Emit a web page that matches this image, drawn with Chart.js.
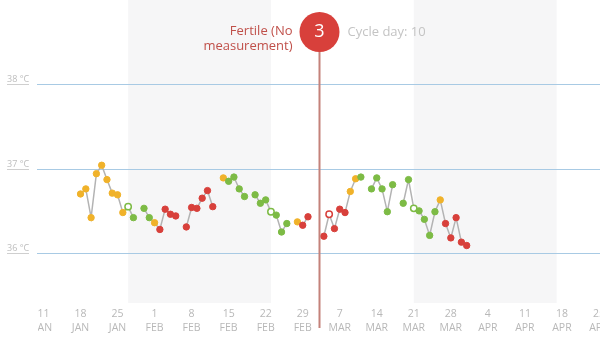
<!DOCTYPE html>
<html>
<head>
<meta charset="utf-8">
<script src="https://cdn.jsdelivr.net/npm/chart.js@4.4.1/dist/chart.umd.min.js"></script>
<style>
  html, body { margin: 0; padding: 0; background: #fff; }
</style>
</head>
<body>
<canvas id="tempChart" width="600" height="338"></canvas>
<script>
// days are counted from 11 Jan; first measurement is on day 7 (18 Jan)
const firstDay = 7;
const temps = [
    36.70, 36.76, 36.42, 36.94, 37.04, 36.87, 36.71, 36.69, 36.48, 36.55, 36.42,
    null,
    36.53, 36.42, 36.36, 36.28, 36.52, 36.46, 36.44,
    null,
    36.31, 36.54, 36.53, 36.65, 36.74, 36.55,
    null,
    36.89, 36.85, 36.90, 36.76, 36.67,
    null,
    36.69, 36.59, 36.63, 36.49, 36.45, 36.25, 36.35,
    null,
    36.37, 36.33, 36.43,
    null, null,
    36.20, 36.46, 36.29, 36.52, 36.48, 36.73, 36.88, 36.90,
    null,
    36.76, 36.89, 36.76, 36.49, 36.81,
    null,
    36.59, 36.87, 36.53, 36.50, 36.40, 36.21, 36.49, 36.63, 36.35, 36.18, 36.42, 36.13, 36.09
];
// Y = unsure, G = infertile, R = fertile
const phases = [
    'Y', 'Y', 'Y', 'Y', 'Y', 'Y', 'Y', 'Y', 'Y', 'G', 'G',
    null,
    'G', 'G', 'Y', 'R', 'R', 'R', 'R',
    null,
    'R', 'R', 'R', 'R', 'R', 'R',
    null,
    'Y', 'G', 'G', 'G', 'G',
    null,
    'G', 'G', 'G', 'G', 'G', 'G', 'G',
    null,
    'Y', 'R', 'R',
    null, null,
    'R', 'R', 'R', 'R', 'R', 'Y', 'Y', 'G',
    null,
    'G', 'G', 'G', 'G', 'G',
    null,
    'G', 'G', 'G', 'G', 'G', 'G', 'G', 'Y', 'R', 'R', 'R', 'R', 'R'
];
const hollowDays = [16, 43, 54, 70];

// cycles drawn with a grey background
const shadedCycles = [[16, 43], [70, 97]];

const tickDays = [0, 7, 14, 21, 28, 35, 42, 49, 56, 63, 70, 77, 84, 91, 98, 105];
const tickLabels = [
    ['11', 'JAN'], ['18', 'JAN'], ['25', 'JAN'], ['1', 'FEB'], ['8', 'FEB'], ['15', 'FEB'],
    ['22', 'FEB'], ['29', 'FEB'], ['7', 'MAR'], ['14', 'MAR'], ['21', 'MAR'], ['28', 'MAR'],
    ['4', 'APR'], ['11', 'APR'], ['18', 'APR'], ['25', 'APR']
];
const gridTemps = [36, 37, 38];
const gridLabels = ['36 °C', '37 °C', '38 °C'];

const today = 52;
const todayNumber = '3';
const todayStatus = ['Fertile (No', 'measurement)'];
const todayCycle = 'Cycle day: 10';

const phaseColors = { Y: '#f0b22a', G: '#7dbb45', R: '#d8403b' };
const fontFamily = '"Open Sans", "DejaVu Sans", sans-serif';

const points = temps.map((t, i) => ({ x: firstDay + i, y: t }));
const colorAt = (i) => phaseColors[phases[i]] || '#999';
const isHollow = (i) => hollowDays.includes(firstDay + i);

// grey backgrounds behind every second cycle
const bandsPlugin = {
    id: 'bands',
    beforeDatasetsDraw: (chart) => {
        const { ctx, chartArea, scales } = chart;
        ctx.save();
        ctx.fillStyle = '#f6f6f7';
        shadedCycles.forEach(([from, to]) => {
            const x1 = scales.x.getPixelForValue(from);
            const x2 = scales.x.getPixelForValue(to);
            ctx.fillRect(x1, chartArea.top, x2 - x1, chartArea.bottom - chartArea.top);
        });

        // temperature lines with their small labels
        gridTemps.forEach((t, i) => {
            const y = Math.round(scales.y.getPixelForValue(t)) + 0.5;
            ctx.strokeStyle = '#a8cae4';
            ctx.lineWidth = 1.2;
            ctx.beginPath();
            ctx.moveTo(37, y);
            ctx.lineTo(chartArea.right, y);
            ctx.stroke();

            ctx.strokeStyle = '#cfcfcf';
            ctx.lineWidth = 1;
            ctx.beginPath();
            ctx.moveTo(7, y);
            ctx.lineTo(29, y);
            ctx.stroke();

            ctx.fillStyle = '#bdbdbd';
            ctx.font = '9px ' + fontFamily;
            ctx.textAlign = 'left';
            ctx.textBaseline = 'alphabetic';
            ctx.fillText(gridLabels[i], 7, y - 3);
        });
        ctx.restore();
    }
};

// date labels under the chart, cut at the left edge of the plot
const xLabelsPlugin = {
    id: 'xLabels',
    afterDraw: (chart) => {
        const { ctx, scales } = chart;
        ctx.save();
        ctx.beginPath();
        ctx.rect(38, 300, 600, 38);
        ctx.clip();
        ctx.fillStyle = '#b8b8b8';
        ctx.font = '10.5px ' + fontFamily;
        ctx.textAlign = 'center';
        ctx.textBaseline = 'middle';
        tickDays.forEach((d, i) => {
            const x = scales.x.getPixelForValue(d);
            ctx.fillText(tickLabels[i][0], x, 314);
            ctx.fillText(tickLabels[i][1], x, 328);
        });
        ctx.restore();
    }
};

// today marker: line, red bubble and texts
const todayPlugin = {
    id: 'todayMarker',
    afterDraw: (chart) => {
        const { ctx, scales } = chart;
        const x = Math.round(scales.x.getPixelForValue(today)) + 0.5;
        const cy = 32;
        ctx.save();
        ctx.strokeStyle = '#c4827a';
        ctx.lineWidth = 2;
        ctx.beginPath();
        ctx.moveTo(x, cy);
        ctx.lineTo(x, 328);
        ctx.stroke();

        ctx.fillStyle = '#d8403b';
        ctx.beginPath();
        ctx.arc(x, cy, 20, 0, Math.PI * 2);
        ctx.fill();

        ctx.fillStyle = '#ffffff';
        ctx.font = '18px ' + fontFamily;
        ctx.textAlign = 'center';
        ctx.textBaseline = 'middle';
        ctx.fillText(todayNumber, x, cy);

        ctx.font = '13px ' + fontFamily;
        ctx.fillStyle = '#c0504a';
        ctx.textAlign = 'right';
        ctx.fillText(todayStatus[0], x - 27, 31);
        ctx.fillText(todayStatus[1], x - 27, 46);

        ctx.fillStyle = '#c4c4c4';
        ctx.textAlign = 'left';
        ctx.fillText(todayCycle, x + 28, 32);
        ctx.restore();
    }
};

new Chart(document.getElementById('tempChart').getContext('2d'), {
    type: 'line',
    data: {
        datasets: [{
            data: points,
            borderColor: '#b3b3b3',
            borderWidth: 1.5,
            tension: 0,
            spanGaps: false,
            pointRadius: 3.2,
            pointBorderWidth: (c) => isHollow(c.dataIndex) ? 1.5 : 1,
            pointBackgroundColor: (c) => isHollow(c.dataIndex) ? '#ffffff' : colorAt(c.dataIndex),
            pointBorderColor: (c) => colorAt(c.dataIndex)
        }]
    },
    options: {
        responsive: false,
        animation: false,
        layout: { autoPadding: false, padding: { top: 0, left: 0, right: 0, bottom: 35 } },
        scales: {
            x: { type: 'linear', min: -8.22, max: 105.2, display: false },
            y: { min: 35.41, max: 38.995, display: false }
        },
        plugins: {
            legend: { display: false },
            tooltip: { enabled: false }
        }
    },
    plugins: [bandsPlugin, xLabelsPlugin, todayPlugin]
});
</script>
</body>
</html>
